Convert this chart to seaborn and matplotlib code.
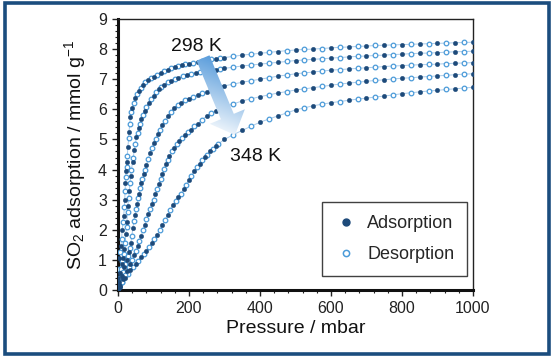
import numpy as np
import pandas as pd
import matplotlib
matplotlib.use("Agg")
import matplotlib.pyplot as plt
import seaborn as sns
from matplotlib.patches import Polygon, Rectangle
from matplotlib.lines import Line2D
from matplotlib.ticker import MultipleLocator

# ---------------- data ----------------
temps = ["298 K", "T2", "T3", "T4", "348 K"]

# common high-pressure grid
p_high_ads = [300, 350, 400, 450, 500, 550, 600, 650, 700, 750, 800, 850, 900, 950, 1000]
p_high_des = [325, 375, 425, 475, 525, 575, 625, 675, 725, 775, 825, 875, 925, 975]

# curve 1 (298 K)
c1_ads_p = [0, 1, 4, 8, 12, 16, 19, 21, 23, 25, 28, 31, 35, 40, 48, 58, 70, 85, 100, 120, 140, 160, 180, 200, 225, 250, 275]
c1_ads_q = [0, 0.4, 1.05, 1.45, 2.0, 2.45, 3.0, 3.55, 3.95, 4.25, 4.75, 5.25, 5.75, 6.05, 6.38, 6.62, 6.8, 6.97, 7.08, 7.2, 7.31, 7.4, 7.47, 7.52, 7.58, 7.63, 7.68]
c1_ads_hq = [7.72, 7.80, 7.86, 7.92, 7.97, 8.00, 8.04, 8.07, 8.10, 8.13, 8.15, 8.17, 8.19, 8.21, 8.23]
c1_des_p = [2, 6, 10, 14, 18, 20, 22, 24, 26, 30, 33, 37, 44, 53, 64, 77, 92, 110, 130, 150, 170, 190, 212, 237, 262, 287]
c1_des_q = [0.7, 1.25, 1.7, 2.25, 2.75, 3.3, 3.75, 4.1, 4.45, 5.05, 5.5, 5.9, 6.22, 6.5, 6.72, 6.9, 7.03, 7.14, 7.26, 7.36, 7.44, 7.5, 7.55, 7.61, 7.66, 7.7]
c1_des_hq = [7.76, 7.83, 7.89, 7.95, 7.99, 8.02, 8.06, 8.09, 8.12, 8.14, 8.16, 8.18, 8.20, 8.22]

# curve 2
c2_ads_p = [0, 2, 6, 10, 14, 18, 22, 25, 28, 32, 36, 41, 46, 52, 58, 66, 75, 86, 100, 115, 130, 150, 170, 195, 220, 245, 275]
c2_ads_q = [0, 0.25, 0.55, 0.85, 1.05, 1.35, 1.85, 2.25, 2.8, 3.3, 3.8, 4.25, 4.65, 5.08, 5.38, 5.68, 5.95, 6.2, 6.45, 6.68, 6.82, 6.95, 7.05, 7.14, 7.21, 7.26, 7.32]
c2_ads_hq = [7.36, 7.44, 7.50, 7.56, 7.62, 7.66, 7.70, 7.74, 7.77, 7.80, 7.83, 7.86, 7.88, 7.91, 7.93]
c2_des_p = [4, 8, 12, 16, 20, 24, 27, 30, 34, 38, 43, 49, 55, 62, 70, 80, 93, 107, 122, 140, 160, 182, 207, 232, 260, 287]
c2_des_q = [0.4, 0.7, 0.95, 1.2, 1.55, 2.1, 2.6, 3.05, 3.55, 4.0, 4.4, 4.85, 5.22, 5.52, 5.82, 6.08, 6.35, 6.58, 6.75, 6.9, 7.0, 7.1, 7.18, 7.24, 7.3, 7.34]
c2_des_hq = [7.40, 7.47, 7.53, 7.59, 7.64, 7.68, 7.72, 7.76, 7.79, 7.82, 7.85, 7.87, 7.90, 7.92]

# curve 3
c3_ads_p = [0, 3, 10, 17, 24, 30, 36, 42, 48, 54, 60, 66, 72, 80, 90, 100, 112, 125, 140, 158, 178, 200, 225, 250, 275]
c3_ads_q = [0, 0.15, 0.45, 0.75, 1.0, 1.25, 1.55, 2.05, 2.5, 2.85, 3.2, 3.55, 3.85, 4.15, 4.55, 4.88, 5.18, 5.48, 5.78, 6.05, 6.22, 6.35, 6.48, 6.58, 6.68]
c3_ads_hq = [6.78, 6.90, 7.00, 7.10, 7.18, 7.24, 7.30, 7.34, 7.38, 7.42, 7.45, 7.48, 7.50, 7.53, 7.55]
c3_des_p = [6, 13, 20, 27, 33, 39, 45, 51, 57, 63, 69, 76, 85, 95, 106, 118, 132, 149, 168, 189, 212, 237, 262, 287]
c3_des_q = [0.28, 0.6, 0.88, 1.12, 1.4, 1.8, 2.3, 2.7, 3.05, 3.38, 3.7, 4.0, 4.35, 4.72, 5.03, 5.32, 5.62, 5.92, 6.15, 6.3, 6.42, 6.53, 6.63, 6.73]
c3_des_hq = [6.84, 6.95, 7.05, 7.14, 7.21, 7.27, 7.32, 7.36, 7.40, 7.44, 7.47, 7.49, 7.52, 7.54]

# curve 4
c4_ads_p = [0, 5, 15, 25, 35, 45, 55, 65, 75, 85, 95, 105, 115, 125, 135, 145, 158, 172, 188, 205, 225, 250, 275]
c4_ads_q = [0, 0.12, 0.38, 0.62, 0.88, 1.15, 1.45, 1.8, 2.15, 2.52, 2.85, 3.18, 3.52, 3.85, 4.18, 4.45, 4.72, 4.95, 5.15, 5.33, 5.52, 5.78, 5.95]
c4_ads_hq = [6.08, 6.28, 6.42, 6.54, 6.64, 6.72, 6.80, 6.87, 6.93, 6.98, 7.03, 7.07, 7.11, 7.15, 7.18]
c4_des_p = [10, 20, 30, 40, 50, 60, 70, 80, 90, 100, 110, 120, 130, 140, 152, 165, 180, 196, 215, 237, 262, 287]
c4_des_q = [0.25, 0.5, 0.75, 1.0, 1.3, 1.62, 1.98, 2.35, 2.68, 3.0, 3.35, 3.7, 4.02, 4.32, 4.6, 4.85, 5.05, 5.25, 5.43, 5.65, 5.87, 6.03]
c4_des_hq = [6.18, 6.35, 6.48, 6.59, 6.68, 6.76, 6.84, 6.90, 6.96, 7.01, 7.05, 7.09, 7.13, 7.17]

# curve 5 (348 K)
c5_ads_p = [0, 5, 20, 35, 50, 65, 80, 95, 110, 125, 140, 155, 170, 185, 200, 215, 230, 245, 260, 275]
c5_ads_q = [0, 0.1, 0.4, 0.65, 0.85, 1.08, 1.3, 1.55, 1.82, 2.15, 2.5, 2.82, 3.1, 3.35, 3.65, 3.95, 4.2, 4.42, 4.6, 4.78]
c5_ads_hq = [5.00, 5.30, 5.57, 5.78, 5.98, 6.12, 6.22, 6.30, 6.37, 6.44, 6.52, 6.58, 6.63, 6.68, 6.73]
c5_des_p = [12, 27, 42, 57, 72, 87, 102, 117, 132, 147, 162, 177, 192, 207, 222, 237, 252, 267, 282]
c5_des_q = [0.25, 0.52, 0.75, 0.95, 1.18, 1.42, 1.7, 1.98, 2.32, 2.65, 2.95, 3.2, 3.5, 3.8, 4.08, 4.32, 4.5, 4.68, 4.85]
c5_des_hq = [5.16, 5.44, 5.68, 5.88, 6.05, 6.17, 6.26, 6.34, 6.41, 6.48, 6.55, 6.61, 6.66, 6.71]

x_ticks = [0, 200, 400, 600, 800, 1000]
y_ticks = [0, 1, 2, 3, 4, 5, 6, 7, 8, 9]

# ---------------- build table ----------------
curves = [
    (c1_ads_p, c1_ads_q, c1_ads_hq, c1_des_p, c1_des_q, c1_des_hq),
    (c2_ads_p, c2_ads_q, c2_ads_hq, c2_des_p, c2_des_q, c2_des_hq),
    (c3_ads_p, c3_ads_q, c3_ads_hq, c3_des_p, c3_des_q, c3_des_hq),
    (c4_ads_p, c4_ads_q, c4_ads_hq, c4_des_p, c4_des_q, c4_des_hq),
    (c5_ads_p, c5_ads_q, c5_ads_hq, c5_des_p, c5_des_q, c5_des_hq),
]
rows = []
for t, (ap, aq, ahq, dp, dq, dhq) in zip(temps, curves):
    for p, q in zip(list(ap) + p_high_ads, list(aq) + ahq):
        rows.append((t, "Adsorption", p, q))
    for p, q in zip(list(dp) + p_high_des, list(dq) + dhq):
        rows.append((t, "Desorption", p, q))
df = pd.DataFrame(rows, columns=["T", "Branch", "P", "q"])
df = df.sort_values(["T", "P"]).reset_index(drop=True)

# ---------------- figure ----------------
sns.set_style("white")
plt.rcParams["font.family"] = ["Liberation Sans", "DejaVu Sans"]
plt.rcParams["mathtext.fontset"] = "custom"
plt.rcParams["mathtext.rm"] = "Liberation Sans"
plt.rcParams["mathtext.it"] = "Liberation Sans:italic"

W, H = 552, 357
fig = plt.figure(figsize=(W / 100, H / 100), dpi=100)
ax = fig.add_axes([118 / W, 1 - 290 / H, (473 - 118) / W, (290 - 19) / H])

dark = "#1d4a7a"
light = "#4b9bd9"
linec = "#a9cbea"

sns.lineplot(data=df, x="P", y="q", units="T", estimator=None, sort=True,
             color=linec, lw=0.7, ax=ax, zorder=1)
ads = df[df.Branch == "Adsorption"]
des = df[df.Branch == "Desorption"]
sns.scatterplot(data=des, x="P", y="q", color="white", edgecolor=light,
                linewidth=0.9, s=11, ax=ax, zorder=3)
sns.scatterplot(data=ads, x="P", y="q", color=dark, edgecolor=dark,
                linewidth=0.2, s=11, ax=ax, zorder=4)

ax.set_xlim(0, 1000)
ax.set_ylim(0, 9)
ax.set_xticks(x_ticks)
ax.set_yticks(y_ticks)
ax.xaxis.set_minor_locator(MultipleLocator(40))
ax.yaxis.set_minor_locator(MultipleLocator(0.2))
ax.tick_params(which="major", direction="out", length=4, width=1,
               labelsize=11.5, colors="#222222", pad=4,
               bottom=True, left=True, top=False, right=False)
ax.tick_params(which="minor", direction="out", length=2.5, width=0.8,
               bottom=True, left=True, top=False, right=False, colors="#222222")
for s in ["left", "bottom"]:
    ax.spines[s].set_linewidth(2.2)
    ax.spines[s].set_color("#111111")
for s in ["top", "right"]:
    ax.spines[s].set_linewidth(1.0)
    ax.spines[s].set_color("#222222")

ax.set_xlabel("Pressure / mbar", fontsize=14, labelpad=3, color="#111111")
ax.set_ylabel(r"SO$_2$ adsorption / mmol g$^{\mathregular{-1}}$", fontsize=14,
              labelpad=7, color="#111111")

ax.text(222, 8.1, "298 K", fontsize=14, ha="center", va="center", color="#111111")
ax.text(388, 4.45, "348 K", fontsize=14, ha="center", va="center", color="#111111")

# legend
handles = [
    Line2D([], [], ls="none", marker="o", ms=5, mfc=dark, mec=dark),
    Line2D([], [], ls="none", marker="o", ms=4.5, mfc="white", mec=light, mew=1.1),
]
leg = ax.legend(handles, ["Adsorption", "Desorption"], loc="lower right",
                bbox_to_anchor=(0.983, 0.052), frameon=True, fancybox=False,
                fontsize=13, handletextpad=0.6, borderpad=0.7, labelspacing=0.8,
                handlelength=1.2, borderaxespad=0)
leg.get_frame().set_edgecolor("#111111")
leg.get_frame().set_linewidth(1.0)

# gradient arrow (pixel geometry of the reference -> data coords)
inv = ax.transData.inverted()
def px2data(x, y):
    return inv.transform((x, H - y))
tail = np.array([203.0, 58.0])
tip = np.array([235.0, 135.0])
d = tip - tail
L = np.hypot(*d)
u = d / L
n = np.array([u[1], -u[0]])
bw, hw, hl = 7.0, 19.0, 20.0
base = tip - hl * u
verts_px = [tail + bw * n, base + bw * n, base + hw * n, tip,
            base - hw * n, base - bw * n, tail - bw * n]
verts = [px2data(*v) for v in verts_px]
poly = Polygon(verts, closed=True, facecolor="none", edgecolor="none",
               transform=ax.transData)
ax.add_patch(poly)
xs = [v[0] for v in verts_px]
ys = [v[1] for v in verts_px]
x0, x1, y0, y1 = min(xs), max(xs), min(ys), max(ys)
gx, gy = np.meshgrid(np.linspace(x0, x1, 120), np.linspace(y0, y1, 160))
t = ((gx - tail[0]) * u[0] + (gy - tail[1]) * u[1]) / L
t = np.clip(t, 0, 1)
c_start = np.array([1.0, 1.0, 1.0])
c_end = np.array([0.26, 0.56, 0.84])
img = c_start[None, None, :] * (1 - t[..., None]) + c_end[None, None, :] * t[..., None]
dl = px2data(x0, y1)
ur = px2data(x1, y0)
im = ax.imshow(img, extent=[dl[0], ur[0], ur[1], dl[1]], origin="upper",
               aspect="auto", zorder=5, interpolation="bilinear")
im.set_clip_path(poly)
ax.set_xlim(0, 1000)
ax.set_ylim(0, 9)

# blue frame around the figure
fig.add_artist(Rectangle((5 / W, 3 / H), 544 / W, 351 / H, transform=fig.transFigure,
                         fill=False, lw=2.6, ec="#1b4d7e"))

fig.savefig("out.png", dpi=100)
